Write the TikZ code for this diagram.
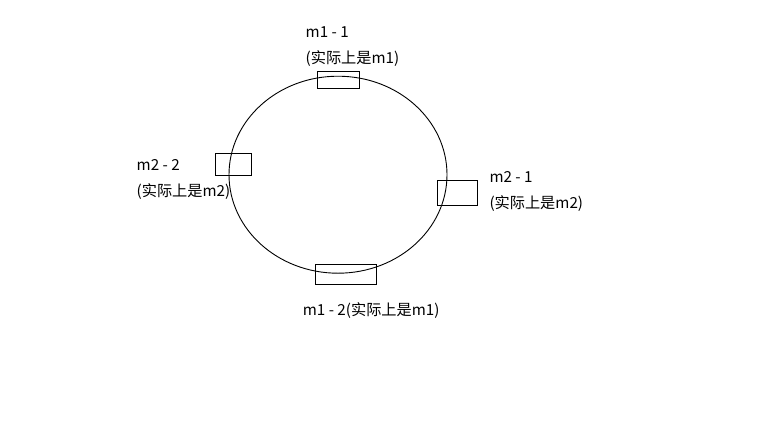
\documentclass[tikz,border=0pt]{standalone}
\usepackage{fontspec}
\setmainfont{Noto Sans CJK SC}
\usetikzlibrary{shapes.geometric}
\begin{document}
\begin{tikzpicture}[x=1pt,y=-1pt,
  box/.style={draw=black, line width=1pt, inner sep=0pt, fill=none},
  ring/.style={draw=black, line width=0.9pt, ellipse, inner sep=0pt},
  lbl/.style={anchor=base west, inner sep=0pt, font=\fontsize{15.2}{17}\selectfont, text=black}]
  \useasboundingbox (0,0) rectangle (768,432);
  \node[ring, minimum width=218pt, minimum height=197pt] (ring) at (338,174.7) {};
  \node[box, minimum width=42pt, minimum height=17pt] (b11) at (338.3,79.8) {};
  \node[box, minimum width=36pt, minimum height=22pt] (b22) at (233.3,164.3) {};
  \node[box, minimum width=40pt, minimum height=25pt] (b21) at (457.3,192.7) {};
  \node[box, minimum width=61pt, minimum height=20pt] (b12) at (346,274.2) {};
  \node[lbl] (t11a) at (305.5,37.3) {m1 - 1};
  \node[lbl] (t11b) at (305.5,63.3) {(实际上是m1)};
  \node[lbl] (t22a) at (136.5,170.7) {m2 - 2};
  \node[lbl] (t22b) at (136.5,196.5) {(实际上是m2)};
  \node[lbl] (t21a) at (489.3,182.7) {m2 - 1};
  \node[lbl] (t21b) at (489.3,208.7) {(实际上是m2)};
  \node[lbl] (t12) at (302.7,315) {m1 - 2(实际上是m1)};
\end{tikzpicture}
\end{document}
